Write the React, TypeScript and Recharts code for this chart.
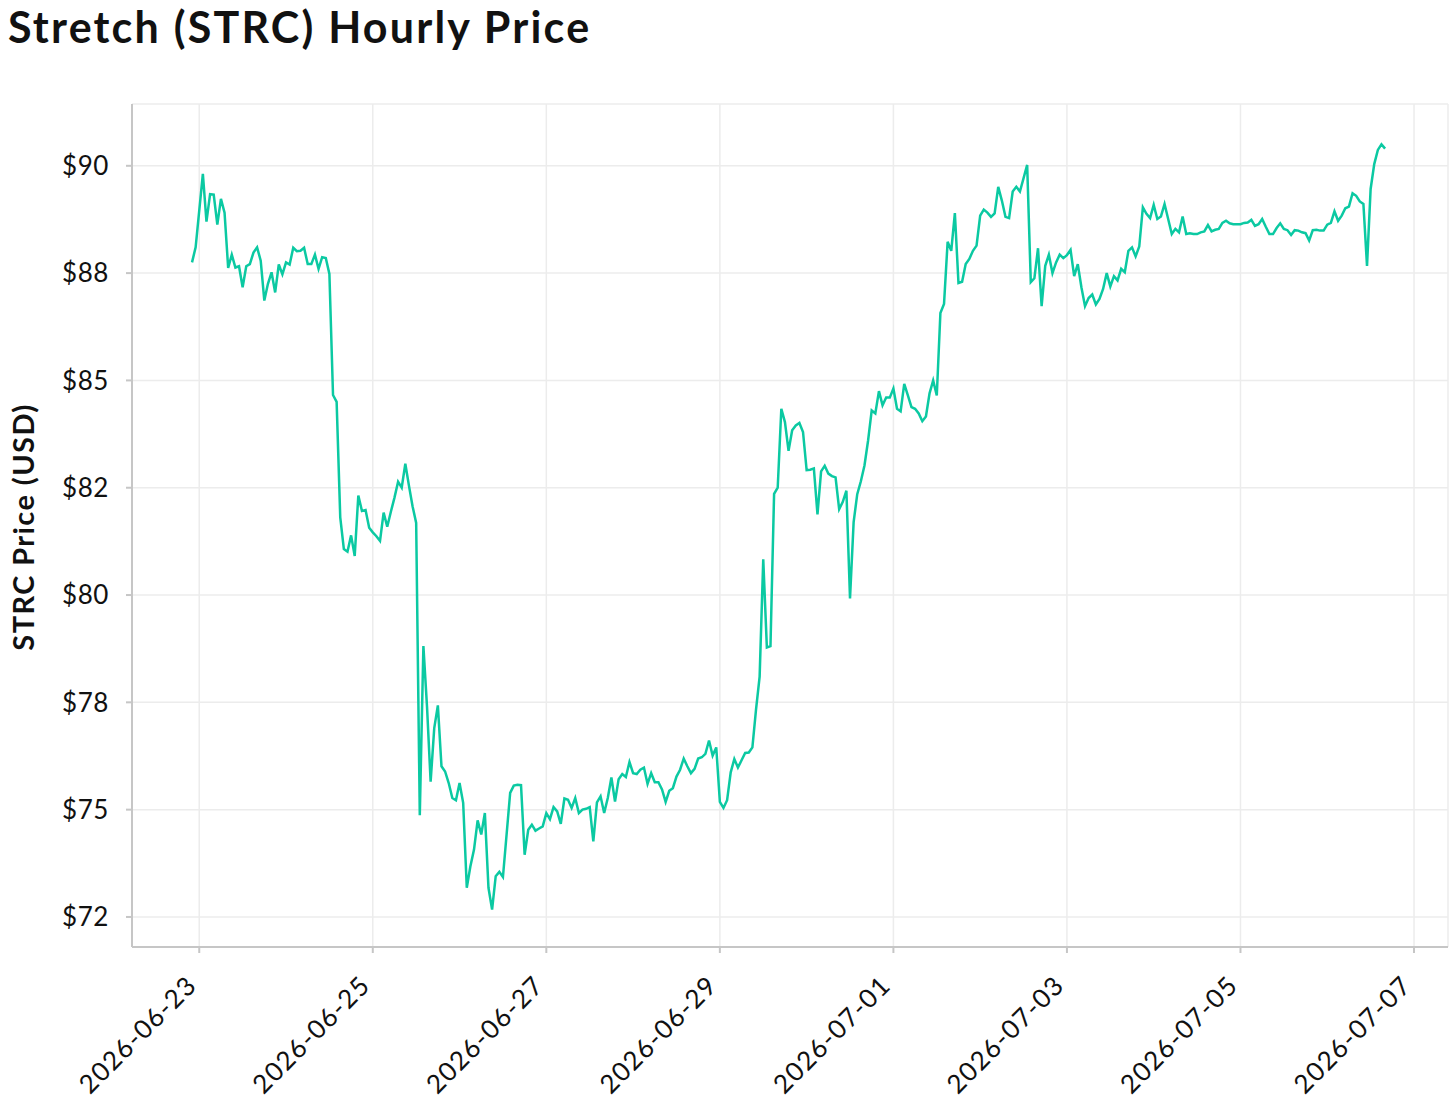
import React from 'react';
import { CartesianGrid, Line, LineChart, XAxis, YAxis } from 'recharts';

const FONT = 'Lato, "Open Sans", sans-serif';
const LINE_COLOR = '#0BC9A2';

// hourly closes, first value is 2026-06-22 22:00 (hour -2 from 06-23 00:00)
const FIRST_HOUR = -2;
const PRICES: (number | null)[] = [
  87.75, 88.10, null, 89.81, 88.70, 89.34, 89.33, 88.63, 89.23, 88.91,
  87.62, 87.93, 87.63, 87.66, 87.17, 87.66, 87.71, 87.98, 88.10, 87.79,
  86.86, 87.25, 87.52, 87.05, 87.70, 87.47, 87.75, 87.70, 88.09, 88.01,
  88.02, 88.09, 87.71, 87.71, 87.93, 87.60, 87.87, 87.85, 87.48, 84.66,
  84.50, 81.81, 81.07, 81.01, 81.39, 80.91, 82.32, 81.96, 81.98, 81.57,
  81.46, 81.37, 81.26, 81.92, 81.59, 81.94, 82.27, 82.64, 82.50, 83.06,
  82.55, 82.07, 81.68, 74.87, 78.81, 77.40, 75.65, 76.90, 77.43, 76.01,
  75.89, 75.62, 75.27, 75.22, 75.62, 75.16, 73.18, 73.68, 74.07, 74.75,
  74.42, 74.92, 73.18, 72.67, 73.45, 73.55, 73.43, null, 75.39, 75.56,
  75.58, 75.57, 73.95, 74.53, 74.65, 74.51, 74.56, 74.61, 74.92, 74.78,
  75.06, 74.96, 74.67, 75.26, 75.23, 75.04, 75.27, 74.92, 75.00, 75.02,
  75.06, 74.26, 75.17, 75.31, 74.92, 75.27, 75.75, 75.19, 75.71, 75.83,
  75.76, 76.11, 75.85, 75.83, 75.93, 75.98, 75.60, 75.85, 75.64, 75.64,
  75.47, 75.18, 75.44, 75.50, 75.77, 75.93, 76.19, 76.01, 75.85, 75.95,
  76.19, 76.22, 76.30, 76.61, 76.26, 76.45, 75.18, 75.04, 75.22, 75.87,
  76.18, 75.98, 76.15, 76.32, 76.33, 76.45, 77.33, 78.10, 80.83, 78.78,
  78.81, 82.36, 82.50, 84.34, 84.03, 83.36, 83.84, 83.95, 84.01, 83.80,
  82.91, 82.92, 82.95, 81.88, 82.88, 83.01, 82.83, 82.77, 82.74, 82.00,
  82.17, 82.43, 79.92, 81.70, 82.35, 82.65, 83.02, 83.60, 84.30, 84.23,
  84.75, 84.42, 84.60, 84.60, 84.81, 84.34, 84.28, 84.92, 84.65, 84.38,
  84.34, 84.23, 84.05, 84.16, 84.70, 85.00, 84.65, 86.57, 86.78, 88.23,
  88.02, 88.90, 87.27, 87.30, 87.71, 87.83, 88.02, 88.14, 88.84, 88.98,
  88.91, 88.81, 88.89, 89.51, 89.19, 88.81, 88.78, 89.40, 89.51, 89.40,
  null, 90.02, 87.29, 87.38, 88.08, 86.73, 87.67, 87.93, 87.50, 87.75,
  87.93, 87.85, 87.92, 88.04, 87.43, 87.71, 87.17, 86.73, 86.92, 87.00,
  86.77, 86.90, 87.13, 87.50, 87.19, 87.43, 87.33, 87.60, 87.52, 88.02,
  88.10, 87.89, 88.12, 89.03, 88.88, 88.78, 89.09, 88.76, 88.82, 89.11,
  88.76, 88.41, 88.53, 88.45, 88.82, 88.41, 88.43, 88.41, 88.41, 88.45,
  88.47, 88.62, 88.47, 88.51, 88.53, 88.67, 88.72, 88.66, 88.64, 88.64,
  88.64, 88.67, 88.68, 88.74, 88.60, 88.64, 88.76, 88.58, 88.41, 88.41,
  88.55, 88.66, 88.53, 88.50, 88.39, 88.50, 88.49, 88.45, 88.43, 88.26,
  88.50, 88.51, 88.49, 88.49, 88.63, 88.67, 88.94, 88.72, 88.84, 89.01,
  89.05, 89.36, 89.30, 89.17, 89.11, 87.67, 89.46, 90.04, 90.37, 90.50,
  90.40,
];

// x ticks: hours from 2026-06-23 00:00
const X_TICKS = [0, 48, 96, 144, 192, 240, 288, 336];
const X_LABELS = [
  '2026-06-23', '2026-06-25', '2026-06-27', '2026-06-29',
  '2026-07-01', '2026-07-03', '2026-07-05', '2026-07-07',
];
const Y_TICKS = [72.5, 75, 77.5, 80, 82.5, 85, 87.5, 90];
const Y_LABELS = ['$72', '$75', '$78', '$80', '$82', '$85', '$88', '$90'];

const data = PRICES.map((price, i) => ({ hour: FIRST_HOUR + i, price }));

const DateTick = (props: any) => {
  const { x, y, payload } = props;
  const idx = X_TICKS.indexOf(payload.value);
  return (
    <g transform={`translate(${x - 1},${y + 34})`}>
      <text
        textAnchor="end"
        transform="rotate(-45)"
        fontSize={26}
        fontFamily={FONT}
        letterSpacing={1.3}
        fill="#111"
      >
        {X_LABELS[idx]}
      </text>
    </g>
  );
};

const axisStroke = { stroke: '#C6C6C6', strokeWidth: 2 };

export default function App() {
  return (
    <div
      style={{
        position: 'absolute',
        left: 0,
        top: 0,
        width: 1456,
        height: 1105,
        background: '#fff',
        fontFamily: FONT,
      }}
    >
      <div
        style={{
          position: 'absolute',
          left: 8,
          top: 5,
          fontSize: 43,
          lineHeight: '43px',
          fontWeight: 700,
          letterSpacing: 2.2,
          color: '#111',
          whiteSpace: 'nowrap',
        }}
      >
        Stretch (STRC) Hourly Price
      </div>
      <div
        style={{
          position: 'absolute',
          left: 22,
          top: 527,
          transform: 'translate(-50%, -50%) rotate(-90deg)',
          fontSize: 29,
          fontWeight: 700,
          letterSpacing: 1.4,
          color: '#111',
          whiteSpace: 'nowrap',
        }}
      >
        STRC Price (USD)
      </div>
      <LineChart
        width={1456}
        height={1105}
        data={data}
        margin={{ top: 104, right: 8, left: 42, bottom: 8 }}
      >
        <CartesianGrid stroke="#ECECEC" strokeWidth={1.5} />
        <XAxis
          type="number"
          dataKey="hour"
          domain={[-18.6, 345.4]}
          ticks={X_TICKS}
          allowDataOverflow
          height={150}
          tickSize={6}
          tickMargin={0}
          axisLine={axisStroke}
          tickLine={axisStroke}
          tick={(p: any) => <DateTick {...p} />}
        />
        <YAxis
          type="number"
          domain={[71.8, 91.44]}
          ticks={Y_TICKS}
          allowDataOverflow
          width={90}
          tickSize={6}
          tickMargin={17}
          axisLine={axisStroke}
          tickLine={axisStroke}
          tickFormatter={(v: number) => Y_LABELS[Y_TICKS.indexOf(v)]}
          tick={{ fontSize: 26, fill: '#111', fontFamily: FONT, letterSpacing: 0.6 }}
        />
        <Line
          type="linear"
          dataKey="price"
          stroke={LINE_COLOR}
          strokeWidth={2.5}
          dot={false}
          connectNulls
          isAnimationActive={false}
        />
      </LineChart>
    </div>
  );
}
